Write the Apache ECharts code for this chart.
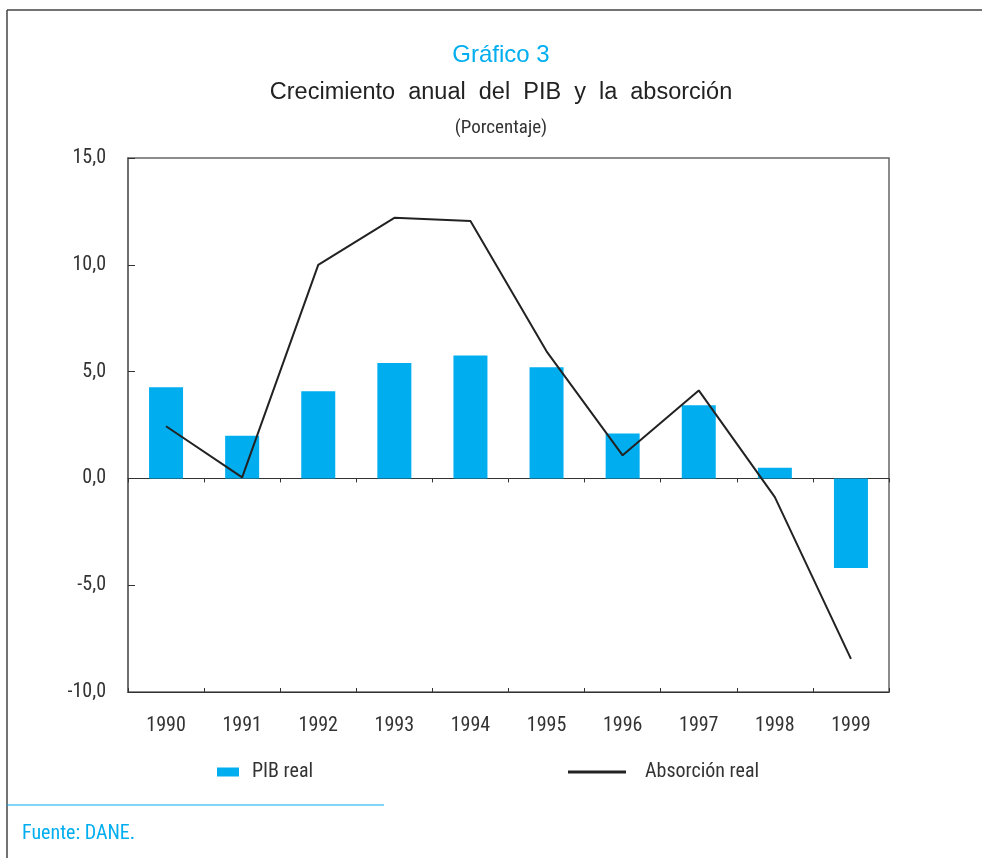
<!DOCTYPE html>
<html>
<head>
<meta charset="utf-8">
<script src="https://cdn.jsdelivr.net/npm/echarts@6/dist/echarts.min.js"></script>
<style>
  html, body { margin: 0; padding: 0; background: #fff; }
  #chart { width: 982px; height: 858px; }
</style>
</head>
<body>
<div id="chart"></div>
<script>
'use strict';

const years = ['1990', '1991', '1992', '1993', '1994', '1995', '1996', '1997', '1998', '1999'];
const pibReal = [4.27, 2.0, 4.08, 5.4, 5.75, 5.2, 2.1, 3.43, 0.5, -4.2];
const absorcionReal = [2.44, 0.05, 10.0, 12.2, 12.05, 5.95, 1.08, 4.12, -0.88, -8.45];
const yTicks = { min: -10, max: 15, step: 5 };

const blue = '#00aeef';
const condensed = '"Liberation Sans Narrow", "Roboto Condensed", "Liberation Sans", sans-serif';
const chart = echarts.init(document.getElementById('chart'));

// extra category axes only draw the zero line and its crossing ticks
function zeroAxis(inside) {
  return {
    type: 'category',
    data: years,
    position: 'bottom',
    axisLine: { show: true, onZero: true, lineStyle: { color: '#333', width: 1 } },
    axisTick: { show: true, inside: inside, length: 4, lineStyle: { color: '#333' } },
    axisLabel: { show: false },
    splitLine: { show: false }
  };
}

const option = {
  animation: false,
  backgroundColor: '#fff',
  title: [
    { text: 'Gráfico 3', left: 496, textAlign: 'center', top: 38,
      textStyle: { color: blue, fontSize: 24, fontWeight: 'normal', fontFamily: 'Liberation Sans' } },
    { text: 'Crecimiento  anual  del  PIB  y  la  absorción', left: 496, textAlign: 'center', top: 76,
      textStyle: { color: '#222', fontSize: 23.5, fontWeight: 'normal', fontFamily: 'Liberation Sans' } },
    { text: '(Porcentaje)', left: 496, textAlign: 'center', top: 114,
      textStyle: { color: '#333', fontSize: 19, fontWeight: 'normal', fontFamily: condensed } }
  ],
  legend: [
    { data: [{ name: 'PIB real', icon: 'rect' }], left: 217, top: 762, padding: 0,
      itemWidth: 22, itemHeight: 9,
      textStyle: { color: '#333', fontSize: 20, fontFamily: condensed, padding: [0, 0, 0, 8] } },
    { data: [{ name: 'Absorción real', icon: 'rect' }], left: 568, top: 762, padding: 0,
      itemWidth: 58, itemHeight: 3,
      textStyle: { color: '#333', fontSize: 20, fontFamily: condensed, padding: [0, 0, 0, 14] } }
  ],
  grid: {
    left: 128, top: 158, width: 761, height: 534,
    show: true, borderColor: '#666', borderWidth: 1.5, backgroundColor: 'transparent'
  },
  xAxis: [
    {
      type: 'category',
      data: years,
      position: 'bottom',
      axisLine: { show: false, onZero: false },
      axisTick: { show: false },
      axisLabel: { color: '#333', fontSize: 20, margin: 24, fontFamily: condensed },
      splitLine: { show: false }
    },
    zeroAxis(false),
    zeroAxis(true)
  ],
  yAxis: {
    type: 'value',
    min: yTicks.min, max: yTicks.max, interval: yTicks.step,
    axisLine: { show: true, lineStyle: { color: '#666', width: 1.5 } },
    axisTick: { show: true, inside: true, length: 7, lineStyle: { color: '#333' } },
    axisLabel: {
      color: '#333', fontSize: 20, margin: 22, fontFamily: condensed,
      formatter: v => v.toFixed(1).replace('.', ',')
    },
    splitLine: { show: false }
  },
  series: [
    {
      name: 'PIB real',
      type: 'bar',
      data: pibReal,
      barWidth: 34,
      itemStyle: { color: blue }
    },
    {
      name: 'Absorción real',
      type: 'line',
      data: absorcionReal,
      symbol: 'none',
      z: 5,
      lineStyle: { color: '#222', width: 2 },
      itemStyle: { color: '#222' }
    }
  ],
  graphic: [
    { type: 'line', shape: { x1: 7, y1: 10, x2: 982, y2: 10 }, style: { stroke: '#444', lineWidth: 1.5 } },
    { type: 'line', shape: { x1: 7, y1: 10, x2: 7, y2: 858 }, style: { stroke: '#444', lineWidth: 1.5 } },
    { type: 'line', shape: { x1: 7, y1: 805, x2: 384, y2: 805 }, style: { stroke: blue, lineWidth: 1 } },
    { type: 'text', left: 22, top: 824,
      style: { text: 'Fuente: DANE.', fill: blue, fontSize: 20, fontFamily: condensed } }
  ]
};

chart.setOption(option);
</script>
</body>
</html>
